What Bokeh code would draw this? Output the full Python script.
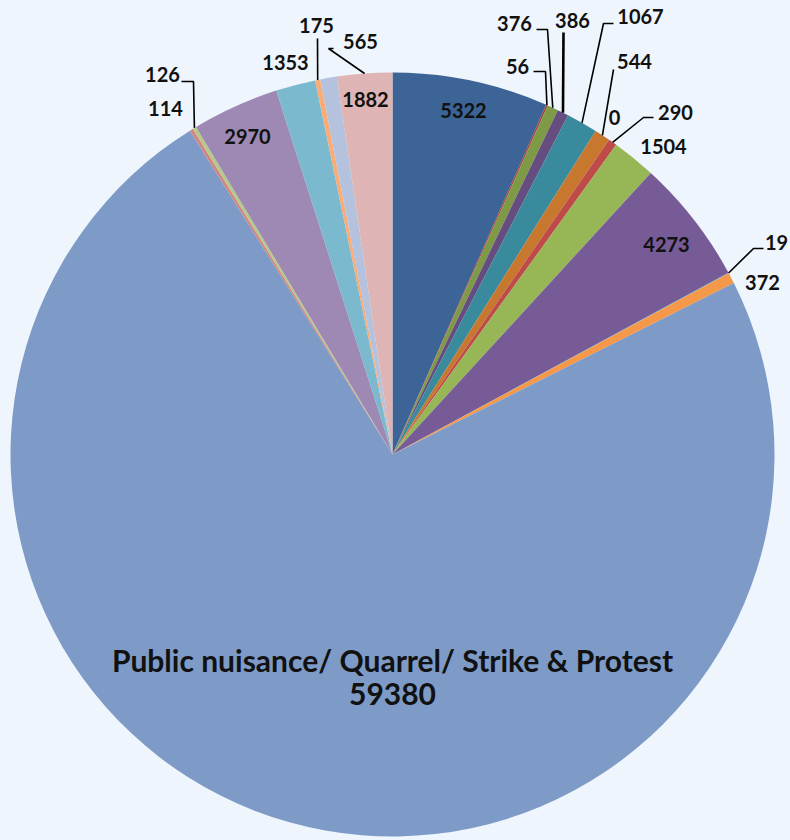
import numpy as np
from bokeh.plotting import figure
from bokeh.models import Range1d, ColumnDataSource, GlobalInlineStyleSheet
from bokeh.core.properties import value
from bokeh.embed import file_html
from bokeh.resources import INLINE

# ---------------- data (clockwise from 12 o'clock) ----------------
values = [5322, 56, 376, 386, 1067, 544, 0, 290, 1504, 4273, 19, 372,
          59380, 114, 126, 2970, 1353, 175, 565, 1882]
value_labels = [str(v) for v in values]
main_category = "Public nuisance/ Quarrel/ Strike & Protest"
main_index = 12

colors = ["#3C6496", "#A33E3B", "#7E9A46", "#654D80", "#388A9C", "#C8772F",
          "#4F81BD", "#BE4B48", "#97B757", "#775B97", "#46AAC5", "#F5984A",
          "#7E9BC8", "#D38584", "#B5CA88", "#9D89B4", "#7AB9CE", "#F9AC76",
          "#B4C2DE", "#DEB5B4"]

# ---------------- layout (screen pixel coordinates) ----------------
CX, CY, R = 392, 454, 382
BG = "#EEF5FC"
FONT = "Lato"

# label centre per slice; leader: (elbow x, elbow y, horizontal end x)
label_pos = [(463, 110), (517, 66), (514, 23), (572, 20), (640, 16), (634, 61),
             (614, 117), (675, 112), (663, 146), (666, 244), (776, 242), (762, 282),
             None, (165, 108), (162, 74), (247, 136), (285, 62), (316, 25),
             (360, 41), (365, 99)]
leaders = {1: (545, 71, 533), 2: (547, 29, 536), 3: (563, 32, 563),
           4: (603, 23, 613), 5: (613, 69, 613), 7: (643, 117, 653),
           10: (753, 248, 763), 14: (193, 81, 181), 17: (317, 38, 317),
           19: (328, 48, 333)}
thick_leaders = {3}

W, H = 790, 840


def Y(sy):
    return H - sy


p = figure(width=W, height=H, x_range=Range1d(0, W), y_range=Range1d(0, H),
           output_backend="svg", toolbar_location=None, min_border=0,
           background_fill_color=BG, border_fill_color=BG, outline_line_color=None)
p.axis.visible = False
p.grid.visible = False
p.stylesheets = [GlobalInlineStyleSheet(
    css=f"html, body {{ background: {BG}; margin: 0; padding: 0; overflow: hidden; }}")]

vals = np.array(values, dtype=float)
frac = vals / vals.sum()
cum_end = np.cumsum(frac) * 2 * np.pi
cum_start = cum_end - frac * 2 * np.pi
mid = (cum_start + cum_end) / 2

nz = vals > 0
src = ColumnDataSource(dict(
    start=(np.pi / 2 - cum_end)[nz],
    end=(np.pi / 2 - cum_start)[nz],
    color=[c for c, k in zip(colors, nz) if k],
))
p.wedge(x=CX, y=Y(CY), radius=R, start_angle="start", end_angle="end",
        fill_color="color", line_color=None, source=src)

# leader lines
xs, ys, lw = [], [], []
for i, (ex, ey, hx) in leaders.items():
    ax = CX + R * np.sin(mid[i])
    ay = CY - R * np.cos(mid[i])
    xs.append([ax, ex, hx])
    ys.append([Y(ay), Y(ey), Y(ey)])
    lw.append(2.6 if i in thick_leaders else 1.6)
p.multi_line(xs="xs", ys="ys", line_width="lw", line_color="#000000",
             source=ColumnDataSource(dict(xs=xs, ys=ys, lw=lw)))

# value labels
lx, ly, lt = [], [], []
for i, pos in enumerate(label_pos):
    if pos is None:
        continue
    lx.append(pos[0]); ly.append(Y(pos[1])); lt.append(value_labels[i])
p.text(x="x", y="y", text="t", source=ColumnDataSource(dict(x=lx, y=ly, t=lt)),
       text_font=value(FONT), text_font_style="bold", text_font_size="20px",
       text_align="center", text_baseline="middle", text_color="#111111")

# main category label
p.text(x=[CX, CX], y=[Y(659), Y(693)], text=[main_category, value_labels[main_index]],
       text_font=value(FONT), text_font_style="bold", text_font_size="30px",
       text_align="center", text_baseline="middle", text_color="#111111")

open("out.html", "w").write(file_html(p, INLINE))
